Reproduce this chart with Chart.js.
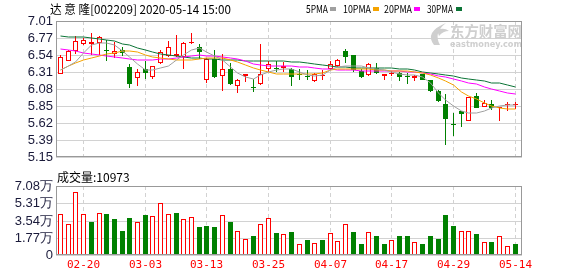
<!DOCTYPE html>
<html>
<head>
<meta charset="utf-8">
<script src="https://cdn.jsdelivr.net/npm/chart.js@4/dist/chart.umd.min.js"></script>
<style>
  html, body { margin: 0; padding: 0; background: #fff; }
  #wrap { position: relative; width: 578px; height: 276px; }
  canvas { position: absolute; left: 0; }
  #kline { top: 0; }
  #vol { top: 168px; }
</style>
</head>
<body>
<div id="wrap">
  <canvas id="kline" width="578" height="168"></canvas>
  <canvas id="vol" width="578" height="108"></canvas>
</div>
<script>
const dates = [
  '02-17','02-18','02-19','02-20','02-21','02-24','02-25','02-26','02-27','02-28',
  '03-02','03-03','03-04','03-05','03-06','03-09','03-10','03-11','03-12','03-13',
  '03-16','03-17','03-18','03-19','03-20','03-23','03-24','03-25','03-26','03-27',
  '03-30','03-31','04-01','04-02','04-03','04-07','04-08','04-09','04-10','04-13',
  '04-14','04-15','04-16','04-17','04-20','04-21','04-22','04-23','04-24','04-27',
  '04-28','04-29','04-30','05-06','05-07','05-08','05-11','05-12','05-13','05-14'
]
const dateTicks = [3, 11, 19, 27, 35, 43, 51, 59]

const opens = [6.29,6.47,6.60,6.69,6.70,6.71,6.62,6.56,6.61,6.38, 6.23,6.35,6.24,6.43,6.53,6.53,6.52,6.71,6.65,6.21,
  6.49,6.26,6.35,6.12,6.26,6.11,6.15,6.36,6.36,6.37, 6.36,6.28,6.26,6.19,6.26,6.36,6.39,6.60,6.54,6.33,
  6.27,6.37,6.26,6.28,6.30,6.25,6.23,6.28,6.20,6.06, 5.88,5.60,5.78,5.64,5.99,5.84,5.88,5.82,5.86,5.86]
const highs = [6.55,6.62,6.80,6.78,6.85,6.80,6.75,6.72,6.66,6.42, 6.36,6.46,6.40,6.62,6.74,6.82,6.73,6.84,6.69,6.51,
  6.62,6.56,6.44,6.22,6.28,6.22,6.69,6.47,6.47,6.45, 6.37,6.36,6.34,6.30,6.34,6.47,6.49,6.63,6.55,6.35,
  6.43,6.43,6.29,6.33,6.31,6.30,6.27,6.29,6.21,6.07, 6.01,5.75,5.78,5.97,6.02,5.93,5.93,5.84,5.90,5.91]
const lows = [6.28,6.46,6.56,6.68,6.55,6.54,6.47,6.51,6.53,6.09, 6.12,6.22,6.22,6.42,6.52,6.52,6.36,6.70,6.49,6.17,
  6.23,6.06,6.14,6.02,6.18,6.04,6.14,6.32,6.32,6.32, 6.12,6.21,6.20,6.18,6.20,6.34,6.38,6.44,6.32,6.23,
  6.26,6.29,6.21,6.26,6.19,6.15,6.19,6.20,6.04,5.90, 5.32,5.44,5.56,5.64,5.82,5.83,5.80,5.65,5.78,5.81]
const closes = [6.52,6.60,6.74,6.75,6.72,6.79,6.60,6.60,6.57,6.15, 6.32,6.30,6.39,6.58,6.65,6.56,6.71,6.72,6.58,6.49,
  6.25,6.35,6.15,6.21,6.28,6.10,6.28,6.42,6.35,6.40, 6.25,6.27,6.24,6.29,6.27,6.42,6.48,6.52,6.34,6.25,
  6.42,6.30,6.28,6.29,6.25,6.24,6.26,6.21,6.06,5.92, 5.67,5.59,5.74,5.97,5.82,5.89,5.82,5.83,5.87,5.87]

const ma5 = [6.337,6.393,6.453,6.569,6.680,6.706,6.715,6.680,6.607,6.518, 6.423,6.346,6.337,6.372,6.389,6.475,6.543,6.620,6.637,6.582,
  6.530,6.479,6.380,6.295,6.239,6.218,6.273,6.316,6.337,6.355, 6.350,6.312,6.273,6.265,6.269,6.337,6.380,6.402,6.402,6.393,
  6.372,6.359,6.342,6.308,6.290,6.273,6.273,6.252,6.166,6.025, 5.931,5.845,5.781,5.751,5.755,5.781,5.823,5.853,5.862,5.866]
const ma10 = [6.337,6.389,6.440,6.475,6.505,6.530,6.556,6.577,6.603,6.603, 6.582,6.552,6.522,6.505,6.492,6.483,6.479,6.483,6.487,6.509,
  6.509,6.509,6.475,6.453,6.415,6.372,6.337,6.308,6.290,6.282, 6.282,6.282,6.282,6.290,6.295,6.337,6.355,6.359,6.359,6.355,
  6.350,6.346,6.342,6.333,6.329,6.325,6.312,6.295,6.273,6.230, 6.188,6.132,6.046,5.991,5.939,5.892,5.849,5.823,5.802,5.802]
const ma20 = [6.629,6.612,6.595,6.577,6.560,6.543,6.530,6.518,6.505,6.487, 6.479,6.479,6.483,6.487,6.496,6.509,6.522,6.530,6.539,6.530,
  6.526,6.522,6.505,6.487,6.458,6.428,6.406,6.393,6.389,6.389, 6.389,6.385,6.380,6.372,6.359,6.355,6.346,6.342,6.337,6.333,
  6.329,6.329,6.329,6.333,6.329,6.320,6.312,6.299,6.286,6.265, 6.243,6.218,6.192,6.166,6.145,6.115,6.085,6.059,6.033,6.012]
const ma30 = [6.800,6.796,6.792,6.787,6.779,6.770,6.753,6.736,6.702,6.676, 6.646,6.616,6.590,6.565,6.543,6.526,6.513,6.505,6.500,6.492,
  6.487,6.483,6.479,6.475,6.470,6.466,6.462,6.462,6.462,6.458, 6.453,6.445,6.432,6.419,6.406,6.393,6.380,6.376,6.372,6.372,
  6.372,6.372,6.368,6.368,6.359,6.350,6.337,6.320,6.303,6.290, 6.273,6.256,6.235,6.222,6.205,6.192,6.170,6.158,6.136,6.115]

// volume in 万 shares, colour flag 1 = up day
const vols = [4.19,3.17,6.51,4.19,3.37,4.29,4.22,3.68,2.45,3.78, 3.37,4.09,3.98,5.38,4.19,4.29,3.68,3.85,2.86,2.96,
  2.86,4.09,3.37,2.45,1.60,1.94,3.17,3.75,2.28,2.15, 2.35,1.12,1.53,1.23,1.53,2.25,1.43,3.17,2.35,1.12,
  2.35,1.94,1.12,1.53,1.94,1.94,1.33,1.12,1.94,1.63, 4.09,2.96,2.45,2.45,2.15,1.33,1.33,1.94,0.92,1.0973]
const volUp = [1,1,1,1,0,1,0,0,0,0, 1,0,1,1,1,0,1,1,0,0, 0,1,0,1,1,0,1,1,0,1,
  0,1,0,1,0,1,1,1,0,0, 1,0,0,1,0,0,1,0,0,0, 0,0,1,1,0,1,0,1,1,0]

const priceLabels = ['5.15','5.39','5.62','5.85','6.08','6.31','6.54','6.77','7.01']
const volTicks = [0, 1.77, 3.54, 5.31, 7.08]
const volLabels = ['0','1.77万','3.54万','5.31万','7.08万']
const maNames = ['5PMA','10PMA','20PMA','30PMA']

const title = '达 意 隆[002209] 2020-05-14 15:00'
const lastVol = '成交量:10973'

const RED = '#ff0000'
const GREEN = '#008000'
const maColors = ['#a0a0a0', '#f5a300', '#ff00ff', '#0b7436']
const GRID = '#d2d2d2'
const AXIS_TEXT = '#1a1a3a'
const PMIN = 5.15, PMAX = 7.01
const XMIN = -0.52, XMAX = 59.96

const isUp = i => closes[i] >= opens[i]

Chart.defaults.animation = false
Chart.defaults.font.family = "'Liberation Sans', sans-serif"
Chart.defaults.plugins.legend.display = false
Chart.defaults.plugins.tooltip.enabled = false

// round scale pixels so 1px borders of the bars stay crisp
function snap(scale, half) {
  if (scale._snapped) return
  const raw = scale.getPixelForValue.bind(scale)
  scale.getPixelForValue = (v, i) => Math.round(raw(v, i)) + half
  scale._snapped = true
}

const framePlugin = {
  id: 'frame',
  afterDraw(chart) {
    const {ctx, chartArea: a} = chart
    ctx.save()
    ctx.strokeStyle = '#999'
    ctx.lineWidth = 1
    ctx.strokeRect(Math.round(a.left) + 0.5, Math.round(a.top) + 0.5,
      Math.round(a.right - a.left) - 1, Math.round(a.bottom - a.top) - 1)
    ctx.restore()
  }
}

const headerPlugin = {
  id: 'header',
  beforeDatasetsDraw(chart) {
    // eastmoney watermark
    const ctx = chart.ctx
    ctx.save()
    ctx.fillStyle = '#cfcfcf'
    ctx.beginPath()
    ctx.moveTo(434, 45)
    ctx.quadraticCurveTo(424, 32, 446, 23)
    ctx.quadraticCurveTo(433, 33, 440, 45)
    ctx.closePath()
    ctx.fill()
    ctx.beginPath()
    ctx.moveTo(437, 30)
    ctx.quadraticCurveTo(444, 27, 449, 31)
    ctx.quadraticCurveTo(443, 31, 439, 36)
    ctx.closePath()
    ctx.fill()
    ctx.font = "bold 15px 'Noto Sans CJK SC'"
    ctx.textBaseline = 'alphabetic'
    ctx.fillText('东方财富网', 450, 37, 72)
    ctx.font = "bold 9px 'DejaVu Sans'"
    ctx.fillText('eastmoney.com', 450, 47, 72)
    ctx.restore()
  },
  afterDraw(chart) {
    const ctx = chart.ctx
    ctx.save()
    ctx.fillStyle = '#000'
    ctx.textBaseline = 'alphabetic'
    ctx.font = "12px 'Noto Sans CJK SC'"
    ctx.fillText(title, 50, 14, 181)
    const items = [[306, 22, 330], [343, 28, 373], [384, 28, 414], [427, 26, 456]]
    ctx.font = "11px 'Noto Sans CJK SC'"
    items.forEach(([x, w, sq], k) => {
      ctx.fillStyle = '#000'
      ctx.fillText(maNames[k], x, 13, w)
      ctx.fillStyle = maColors[k]
      ctx.fillRect(sq, 7, 6, 4)
    })
    ctx.restore()
  }
}

const volTextPlugin = {
  id: 'volText',
  afterDraw(chart) {
    const ctx = chart.ctx
    ctx.save()
    ctx.fillStyle = '#000'
    ctx.textBaseline = 'alphabetic'
    ctx.font = "12px 'Noto Sans CJK SC'"
    ctx.fillText(lastVol, 57, 14, 73)
    ctx.restore()
  }
}

const xTicks = scale => { scale.ticks = dateTicks.map(v => ({value: v})) }

new Chart(document.getElementById('kline'), {
  type: 'bar',
  data: {
    datasets: [
      ...[ma5, ma10, ma20, ma30].map((s, k) => ({
        type: 'line',
        data: s.map((v, i) => ({x: i, y: v})),
        borderColor: maColors[k],
        borderWidth: 1,
        pointRadius: 0,
        tension: 0,
        order: 0,
      })),
      {
        data: opens.map((o, i) => ({x: i, y: [o, closes[i]]})),
        backgroundColor: c => isUp(c.dataIndex) ? '#ffffff' : GREEN,
        borderColor: c => isUp(c.dataIndex) ? RED : GREEN,
        borderWidth: 1,
        borderSkipped: false,
        barThickness: 5,
        minBarLength: 1,
        inflateAmount: 0,
        grouped: false,
        order: 1,
      },
      {
        data: lows.map((l, i) => ({x: i, y: [l, highs[i]]})),
        backgroundColor: c => isUp(c.dataIndex) ? RED : GREEN,
        borderWidth: 0,
        barThickness: 1,
        inflateAmount: 0,
        grouped: false,
        order: 2,
      },
    ],
  },
  options: {
    responsive: false,
    layout: {padding: {top: 21, right: 56, bottom: 2, left: 0}},
    scales: {
      x: {
        type: 'linear', min: XMIN, max: XMAX, offset: false,
        afterBuildTicks: xTicks,
        afterFit: s => { s.height = 0 },
        afterUpdate: s => snap(s, 0.5),
        ticks: {display: false},
        grid: {color: GRID, drawTicks: false, offset: false},
        border: {display: false, dash: [4, 3]},
      },
      y: {
        min: PMIN, max: PMAX,
        afterBuildTicks: s => { s.ticks = priceLabels.map((t, k) => ({value: PMIN + k * (PMAX - PMIN) / 8})) },
        afterFit: s => { s.width = 56 },
        afterUpdate: s => snap(s, 0),
        ticks: {callback: (v, i) => priceLabels[i], color: AXIS_TEXT, font: {size: 13}, padding: 3, autoSkip: false},
        grid: {color: GRID, drawTicks: false},
        border: {display: false},
      },
    },
  },
  plugins: [headerPlugin, framePlugin],
})

new Chart(document.getElementById('vol'), {
  type: 'bar',
  data: {
    datasets: [{
      data: vols.map((v, i) => ({x: i, y: v})),
      backgroundColor: c => volUp[c.dataIndex] ? '#ffffff' : GREEN,
      borderColor: c => volUp[c.dataIndex] ? RED : GREEN,
      borderWidth: 1,
      borderSkipped: 'bottom',
      barThickness: 5,
      inflateAmount: 0,
    }],
  },
  options: {
    responsive: false,
    layout: {padding: {top: 18, right: 56, bottom: 0, left: 0}},
    scales: {
      x: {
        type: 'linear', min: XMIN, max: XMAX, offset: false,
        afterBuildTicks: xTicks,
        afterFit: s => { s.height = 21 },
        afterUpdate: s => snap(s, 0.5),
        ticks: {callback: v => dates[v], color: RED, autoSkip: false, maxRotation: 0, padding: 4,
          font: {family: "'DejaVu Sans Mono', monospace", size: 11}},
        grid: {color: GRID, drawTicks: false, offset: false},
        border: {display: false, dash: [4, 3]},
      },
      y: {
        min: 0, max: 7.08,
        afterBuildTicks: s => { s.ticks = volTicks.map(v => ({value: v})) },
        afterFit: s => { s.width = 56 },
        afterUpdate: s => snap(s, 0),
        ticks: {callback: (v, i) => volLabels[i], color: AXIS_TEXT, font: {size: 13}, padding: 3, autoSkip: false},
        grid: {color: GRID, drawTicks: false},
        border: {display: false},
      },
    },
  },
  plugins: [framePlugin, volTextPlugin],
})
</script>
</body>
</html>
